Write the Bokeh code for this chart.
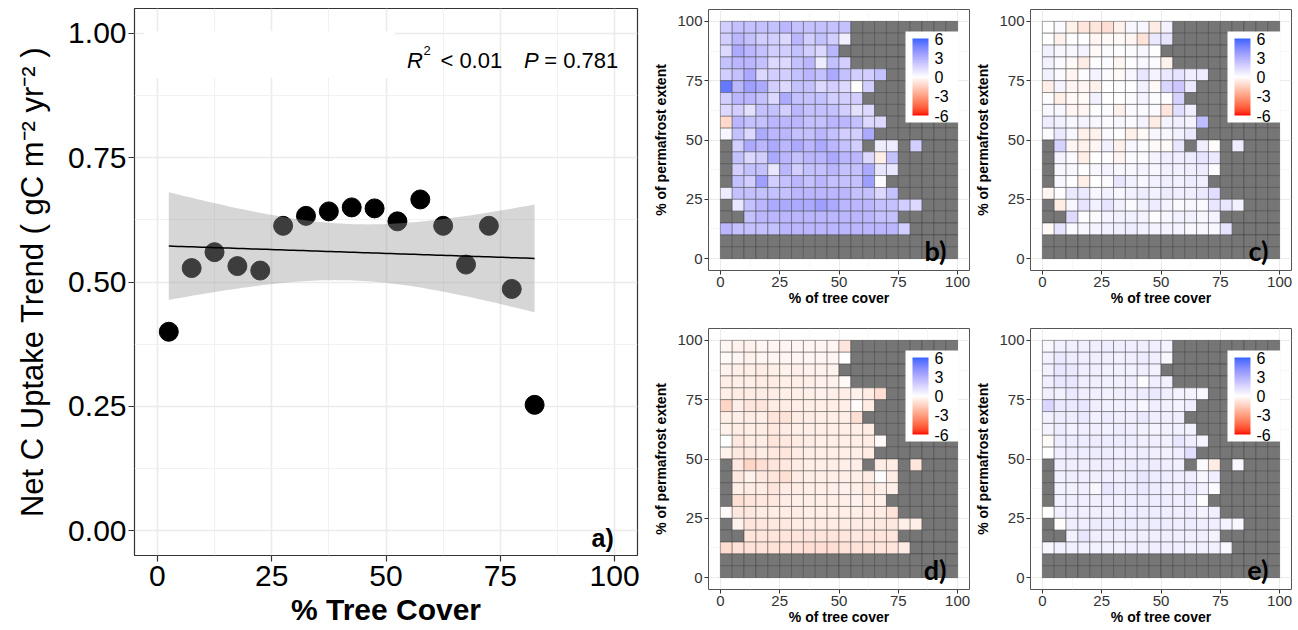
import numpy as np
from bokeh.plotting import figure
from bokeh.models import (ColumnDataSource, LinearColorMapper, ColorBar, FixedTicker,
                          Label, PrintfTickFormatter)
from bokeh.layouts import row, column
from bokeh.embed import file_html
from bokeh.resources import INLINE

# ---------------- data: panel a ----------------
tree_cover = [2.5, 7.5, 12.5, 17.5, 22.5, 27.5, 32.5, 37.5, 42.5, 47.5,
              52.5, 57.5, 62.5, 67.5, 72.5, 77.5, 82.5]
net_c_uptake_trend = [0.400, 0.528, 0.560, 0.532, 0.523, 0.613, 0.633, 0.642, 0.650,
                      0.648, 0.622, 0.666, 0.613, 0.535, 0.613, 0.486, 0.253]

# ---------------- data: heatmaps (rows listed top = 95-100 % permafrost, down to 0-5 %) --------
tree_cover_bins = [2.5 + 5 * i for i in range(20)]
permafrost_bins = [2.5 + 5 * i for i in range(20)]
N = None

trend_b = [
    [1.8, 2.3, 2.3, 2.3, 2.3, 2.7, 2.3, 2.3, 2.3, 2.3, 2.3],
    [1.8, 2.7, 2.3, 1.8, 1.8, 1.4, 2.7, 1.8, 2.3, 1.8, 0.6],
    [1.4, 3.2, 2.7, 2.3, 1.8, 1.8, 2.3, 1.8, 1.4, 2.7],
    [2.3, 2.7, 2.7, 2.3, 1.4, 1.4, 2.3, 2.7, 0.7, 2.3, 1.8],
    [1.8, 2.3, 3.2, 1.4, 1.8, 1.8, 2.3, 2.7, 2.3, 3.2, 2.3, 1.8, 1.8, 2.3],
    [5.2, 2.7, 3.6, 3.2, 1.8, 1.4, 2.3, 2.3, 1.4, 1.8, 1.4, 0.0, 1.8],
    [1.8, 2.7, 2.7, 2.3, 1.4, 3.2, 2.3, 2.3, 2.3, 1.8, 1.8, 1.8],
    [1.4, 1.8, 1.1, 2.3, 2.3, 1.8, 2.7, 2.3, 2.3, 2.3, 1.8, 1.1, 1.4],
    [-1.2, 2.7, 2.3, 2.3, 2.7, 2.7, 2.7, 2.3, 2.3, 2.7, 2.7, 2.3, 1.4, 1.4],
    [0.3, 2.3, 1.4, 3.2, 2.7, 2.7, 2.3, 2.3, 2.7, 2.3, 1.8, 1.8, 3.2],
    [N, 1.8, 3.2, 2.7, 3.2, 2.7, 3.2, 2.7, 3.2, 2.7, 2.3, 1.8, N, 0.7, 0.7, N, 1.8],
    [N, 2.3, 1.4, 1.8, 3.2, 2.7, 2.3, 2.7, 2.7, 3.2, 2.7, 2.7, 1.4, -0.5, 2.3],
    [N, 1.8, 2.3, 2.3, 0.9, 2.7, 1.8, 2.3, 2.3, 2.7, 2.3, 2.3, 3.2, 0.9, 0.9],
    [N, 2.3, 1.8, 3.6, 1.8, 2.3, 2.7, 2.3, 2.7, 2.3, 2.3, 2.3, 3.6, 0.2],
    [0.7, 2.3, 2.3, 2.3, 2.3, 2.3, 2.7, 2.7, 2.7, 2.7, 2.7, 2.3, 2.3, 1.4, 2.3],
    [N, 0.9, 2.3, 2.7, 3.2, 3.2, 3.2, 3.2, 3.6, 3.2, 2.7, 2.7, 2.7, 2.3, 2.3, 1.8, 1.4],
    [N, N, 2.3, 2.7, 2.7, 2.7, 2.7, 2.7, 2.7, 2.7, 2.7, 2.7, 2.7, 2.3, 2.3],
    [2.7, 2.3, 2.3, 2.3, 2.3, 2.7, 2.7, 2.7, 2.7, 2.7, 2.7, 2.7, 2.7, 2.7, 2.7, 1.8],
    [],
    [],
]

trend_c = [
    [0.0, 0.2, -0.4, -0.8, -0.8, -1.0, -0.4, 0.3, 0.3, -0.6, 0.5],
    [0.0, -0.4, 0.1, 0.0, -0.3, -0.2, -0.2, -0.3, -0.9, 0.8, 1.0],
    [0.5, 0.3, 0.3, 0.4, -0.2, 0.2, 0.1, 0.2, 0.3, 0.1],
    [0.5, 0.2, -0.2, -0.6, 0.1, 0.2, -0.3, 0.1, 0.3, 0.2, -0.4],
    [0.5, 0.2, -0.3, 0.1, 0.4, 0.2, -0.2, 0.3, 0.9, 0.4, 0.8, 1.0, 0.6, 0.7],
    [-0.5, 0.4, -0.3, -0.3, -0.4, 0.0, 0.1, 0.1, 0.5, -0.2, 1.5, 2.0, 0.8],
    [0.1, -0.5, -0.2, -0.2, 0.5, 0.0, 0.0, 0.2, 0.4, 0.2, 0.1, 1.6],
    [0.3, 0.3, -0.3, -0.3, 0.1, 0.2, -0.4, 0.2, 0.2, 0.2, -0.8, 1.2, 0.6],
    [0.7, 0.5, 0.3, 0.4, 0.3, 0.2, 0.3, 0.2, 0.4, -0.6, 0.4, 0.6, 0.4, 2.5],
    [0.2, 0.8, 0.3, -0.4, -0.4, 0.2, 0.0, -0.4, -0.2, 0.3, 0.3, 0.5, 0.8],
    [N, 1.6, -0.3, -0.4, -0.3, 0.5, -0.4, 0.3, 0.2, -0.2, -0.2, 0.9, N, 0.6, -0.1, N, 0.7],
    [N, 0.4, 0.2, -0.5, 0.0, 0.1, -0.3, 0.2, 0.2, 0.4, 0.6, 0.6, 0.7, 1.0, 0.8],
    [N, 0.3, 0.3, 0.1, 0.3, 0.4, 0.3, 0.3, 0.4, 0.3, 0.5, 0.5, 0.6, 0.7, 0.2],
    [N, 0.3, 0.1, -0.5, 0.0, 0.2, 0.9, 0.5, 0.3, 0.5, 0.6, 0.5, 0.7, 0.6],
    [-0.3, 0.1, 0.8, 0.8, 0.3, 0.5, 0.3, 0.5, 0.7, 0.5, 0.7, 0.6, 0.6, 0.8, 1.2],
    [N, -0.6, 0.3, 1.0, 0.5, 1.0, 0.5, 0.2, 0.5, 0.7, 0.4, 0.2, 0.3, 0.2, 0.9, 0.9, 0.5],
    [N, N, 1.3, 0.1, 0.2, 0.4, 0.5, 0.5, 0.4, 0.1, 0.3, 0.5, 0.5, 0.3, 0.4],
    [-0.2, 1.0, 0.2, 0.3, 0.4, 0.5, 0.6, 0.7, 0.5, 0.4, 0.4, 0.4, 0.3, 0.3, 0.3, 1.0],
    [],
    [],
]

trend_d = [
    [-0.3, -0.4, -0.4, -0.3, -0.3, -0.3, -0.3, -0.3, -0.3, -0.3, -0.8],
    [-0.2, -0.3, -0.4, -0.3, -0.3, -0.3, -0.3, -0.3, -0.3, -0.3, 0.0],
    [-0.4, -0.5, -0.5, -0.6, -0.5, -0.4, -0.5, -0.4, -0.4, -0.4],
    [-0.5, -0.5, -0.5, -0.6, -0.6, -0.5, -0.5, -0.5, -0.4, -0.4, -0.2],
    [-0.5, -0.6, -0.6, -0.6, -0.6, -0.5, -0.5, -0.5, -0.4, -0.5, -0.5, -0.4, -0.6, -1.0],
    [-1.3, -0.5, -0.8, -0.8, -0.6, -0.6, -0.5, -0.5, -0.5, -0.5, -0.5, -0.1, -0.6],
    [-0.5, -0.5, -0.6, -0.5, -0.8, -0.9, -0.6, -0.6, -0.5, -0.5, -0.5, -1.0],
    [-0.4, -0.6, -0.5, -0.6, -0.7, -0.6, -0.5, -0.5, -0.5, -0.5, -0.5, -0.5, -0.6],
    [0.0, -0.7, -0.6, -0.6, -0.8, -0.7, -0.6, -0.6, -0.5, -0.5, -0.5, -0.5, -0.6, -0.2],
    [-0.4, -0.7, -0.7, -0.6, -0.7, -0.8, -0.6, -0.5, -0.5, -0.5, -0.5, -0.5, -0.6],
    [N, -0.7, -1.3, -1.0, -0.8, -0.7, -0.6, -0.5, -0.5, -0.5, -0.5, -0.5, N, -0.6, -0.6, N, -0.8],
    [N, -0.7, -0.4, -0.7, -0.8, -1.0, -0.6, -0.5, -0.5, -0.5, -0.5, -0.5, -0.6, 0.1, -0.6],
    [N, -0.5, -0.6, -0.6, -0.8, -0.6, -0.6, -0.5, -0.5, -0.5, -0.4, -0.5, -0.7, -0.5, -0.5],
    [N, -1.0, -0.8, -0.7, -0.7, -0.6, -0.5, -0.5, -0.5, -0.5, -0.5, -0.4, -0.6, -0.5],
    [-0.2, -0.7, -0.7, -0.6, -0.6, -0.6, -0.6, -0.5, -0.5, -0.5, -0.5, -0.5, -0.6, -0.6, -0.9],
    [N, -0.4, -0.8, -0.7, -0.7, -0.7, -0.6, -0.6, -0.6, -0.6, -0.6, -0.6, -0.6, -0.7, -0.7, -0.5, -0.5],
    [N, N, -0.8, -0.8, -0.8, -0.8, -0.8, -0.8, -0.8, -0.8, -0.8, -0.7, -0.8, -0.8, -0.8],
    [-1.1, -0.9, -0.9, -0.9, -0.9, -0.9, -0.9, -1.0, -1.0, -1.0, -0.9, -0.9, -0.9, -0.8, -0.8, -0.6],
    [],
    [],
]

trend_e = [
    [0.3, 0.5, 0.6, 0.6, 0.6, 0.7, 0.6, 0.6, 0.6, 0.6, 0.4],
    [0.5, 0.8, 0.7, 0.6, 0.6, 0.6, 0.5, 0.6, 0.7, 0.6, 0.3],
    [0.5, 0.9, 0.8, 0.6, 0.6, 0.5, 0.5, 0.5, 0.6, 0.5],
    [0.6, 0.9, 0.9, 0.6, 0.6, 0.5, 0.5, 0.6, 0.1, 0.6, 0.5],
    [0.6, 0.5, 0.8, 0.6, 0.6, 0.5, 0.6, 0.6, 0.7, 0.8, 0.6, 0.4, 0.4, 0.3],
    [1.5, 0.8, 0.8, 0.9, 0.6, 0.5, 0.5, 0.5, 0.3, 0.6, 0.5, 0.4, 0.6],
    [0.5, 0.7, 0.7, 0.8, 0.5, 0.7, 0.6, 0.6, 0.8, 0.6, 0.6, 0.6],
    [0.4, 0.7, 0.5, 0.6, 0.6, 0.5, 0.7, 0.6, 0.5, 0.4, 0.5, 0.5, 0.5],
    [-0.2, 0.7, 0.7, 0.7, 0.7, 0.7, 0.7, 0.7, 0.6, 0.6, 0.5, 0.9, 0.6, 0.4],
    [0.0, 0.6, 0.7, 0.7, 0.7, 0.7, 0.6, 0.6, 0.7, 0.6, 0.5, 0.6, 1.2],
    [N, 0.6, 0.6, 0.6, 0.6, 0.7, 0.6, 0.7, 0.7, 0.7, 0.6, 0.5, N, 0.2, -0.6, N, 0.3],
    [N, 0.5, 0.6, 0.6, 0.6, 0.6, 0.6, 0.7, 0.9, 0.7, 0.7, 0.6, 0.6, 0.3, 0.6],
    [N, 0.5, 0.5, 0.6, 0.3, 0.9, 0.7, 0.7, 0.8, 0.7, 0.6, 0.6, 0.8, 0.5, 0.2],
    [N, 0.5, 0.6, 0.6, 0.6, 0.6, 0.6, 0.7, 0.7, 0.7, 0.7, 0.6, 0.7, 0.1],
    [0.0, 0.5, 0.6, 0.6, 0.6, 0.6, 0.6, 0.7, 0.7, 0.7, 0.6, 0.6, 0.7, 0.4, 0.6],
    [N, -0.1, 0.6, 0.6, 0.7, 0.7, 0.7, 0.7, 0.7, 0.7, 0.7, 0.6, 0.7, 0.6, 0.6, 0.4, 0.3],
    [N, N, 0.5, 0.9, 0.6, 0.6, 0.6, 0.6, 0.6, 0.6, 0.6, 0.6, 0.6, 0.6, 0.4],
    [0.3, 0.5, 0.5, 0.5, 0.5, 0.5, 0.5, 0.6, 0.6, 0.6, 0.6, 0.6, 0.5, 0.5, 0.5, 0.3],
    [],
    [],
]

legend_ticks = [-6, -3, 0, 3, 6]
axis_ticks = [0, 25, 50, 75, 100]

FONT = "Liberation Sans"


# ---------------- colour scale (red - white - blue, interpolated in CIE Lab) ----------
def _hex_rgb(h):
    h = h.lstrip("#")
    return [int(h[i:i + 2], 16) / 255 for i in (0, 2, 4)]


def _to_lin(c):
    return c / 12.92 if c <= 0.04045 else ((c + 0.055) / 1.055) ** 2.4


def _from_lin(c):
    c = min(max(c, 0.0), 1.0)
    return 12.92 * c if c <= 0.0031308 else 1.055 * c ** (1 / 2.4) - 0.055


WHITE = (0.95047, 1.0, 1.08883)


def hex_to_lab(h):
    r, g, b = [_to_lin(c) for c in _hex_rgb(h)]
    X = 0.4124 * r + 0.3576 * g + 0.1805 * b
    Y = 0.2126 * r + 0.7152 * g + 0.0722 * b
    Z = 0.0193 * r + 0.1192 * g + 0.9505 * b
    def f(t):
        return t ** (1 / 3) if t > 0.008856 else 7.787 * t + 16 / 116
    fx, fy, fz = f(X / WHITE[0]), f(Y / WHITE[1]), f(Z / WHITE[2])
    return (116 * fy - 16, 500 * (fx - fy), 200 * (fy - fz))


def lab_to_hex(L, a, b):
    fy = (L + 16) / 116
    fx = fy + a / 500
    fz = fy - b / 200
    def finv(t):
        return t ** 3 if t ** 3 > 0.008856 else (t - 16 / 116) / 7.787
    X, Y, Z = finv(fx) * WHITE[0], finv(fy) * WHITE[1], finv(fz) * WHITE[2]
    r = 3.2406 * X - 1.5372 * Y - 0.4986 * Z
    g = -0.9689 * X + 1.8758 * Y + 0.0415 * Z
    bb = 0.0557 * X - 0.2040 * Y + 1.0570 * Z
    return "#%02x%02x%02x" % tuple(int(round(_from_lin(c) * 255)) for c in (r, g, bb))


lab_low, lab_mid, lab_high = hex_to_lab("#FF0000"), hex_to_lab("#FFFFFF"), hex_to_lab("#3366FF")
palette = []
NPAL = 255
for i in range(NPAL):
    t = i / (NPAL - 1) * 2 - 1  # -1 .. 1
    end = lab_low if t < 0 else lab_high
    w = abs(t)
    palette.append(lab_to_hex(*[m + (e - m) * w for m, e in zip(lab_mid, end)]))

mapper = LinearColorMapper(palette=palette, low=-6, high=6, nan_color="#767676")


# ---------------- panel a ----------------
x = np.array(tree_cover)
y = np.array(net_c_uptake_trend)
n = len(x)
slope, intercept = np.polyfit(x, y, 1)
resid = y - (slope * x + intercept)
s = np.sqrt(np.sum(resid ** 2) / (n - 2))
sxx = np.sum((x - x.mean()) ** 2)
t975 = 2.131449546  # t quantile, 15 df
xs = np.linspace(x.min(), x.max(), 80)
fit = slope * xs + intercept
se = s * np.sqrt(1 / n + (xs - x.mean()) ** 2 / sxx)

pa = figure(frame_width=503, frame_height=547, x_range=(-5, 105), y_range=(-0.05, 1.05),
            output_backend="svg", toolbar_location=None,
            min_border_left=134, min_border_right=13, min_border_top=8, min_border_bottom=10)
pa.background_fill_color = "white"
pa.border_fill_color = "white"
pa.outline_line_color = "#333333"
pa.outline_line_width = 1.2

pa.xaxis.ticker = FixedTicker(ticks=axis_ticks, minor_ticks=[12.5, 37.5, 62.5, 87.5])
pa.yaxis.ticker = FixedTicker(ticks=[0, 0.25, 0.5, 0.75, 1.0], minor_ticks=[0.125, 0.375, 0.625, 0.875])
pa.yaxis.formatter = PrintfTickFormatter(format="%.2f")
for g in (pa.xgrid, pa.ygrid):
    g.grid_line_color = "#EBEBEB"
    g.grid_line_width = 1.6
    g.minor_grid_line_color = "#EFEFEF"
    g.minor_grid_line_width = 0.9
for ax in (pa.xaxis, pa.yaxis):
    ax.axis_line_color = None
    ax.major_tick_line_color = "#333333"
    ax.major_tick_line_width = 1.2
    ax.major_tick_out = 6
    ax.major_tick_in = 0
    ax.minor_tick_line_color = None
    ax.major_label_text_font = FONT
    ax.major_label_text_font_size = "30px"
    ax.major_label_text_color = "black"
    ax.axis_label_text_font = FONT
    ax.axis_label_text_color = "black"
pa.yaxis.major_label_standoff = 2
pa.xaxis.major_label_standoff = 4
pa.xaxis.axis_label = "% Tree Cover"
pa.xaxis.axis_label_text_font_style = "bold"
pa.xaxis.axis_label_text_font_size = "30px"
pa.xaxis.axis_label_standoff = 4
pa.yaxis.axis_label = "Net C Uptake Trend ( gC m\u207b\u00b2 yr\u207b\u00b2 )"
pa.yaxis.axis_label_text_font_style = "normal"
pa.yaxis.axis_label_text_font_size = "31px"
pa.yaxis.axis_label_standoff = 15

# white box at the top left of panel a
pa.quad(left=[-3], right=[52], bottom=[0.91], top=[1.004], fill_color="white", line_color=None)

pa.scatter(tree_cover, net_c_uptake_trend, size=19, color="black")
pa.varea(x=xs, y1=fit - t975 * se, y2=fit + t975 * se, fill_color="#999999", fill_alpha=0.4)
pa.line(xs, fit, line_color="black", line_width=1.5)

lbl_kw = dict(text_font=FONT, text_color="black", text_baseline="alphabetic")
pa.add_layout(Label(x=54.6, y=0.9457, text="R", text_font_size="22px", text_font_style="italic", **lbl_kw))
pa.add_layout(Label(x=58.2, y=0.9665, text="2", text_font_size="13px", **lbl_kw))
pa.add_layout(Label(x=61.9, y=0.9457, text="< 0.01", text_font_size="22px", **lbl_kw))
pa.add_layout(Label(x=80.2, y=0.9457, text="P", text_font_size="22px", text_font_style="italic", **lbl_kw))
pa.add_layout(Label(x=84.6, y=0.9457, text="= 0.781", text_font_size="22px", **lbl_kw))
pa.add_layout(Label(x=99.8, y=-0.014, text="a)", text_font=FONT,
                    text_font_size="25px", text_font_style="bold", text_align="right",
                    text_baseline="alphabetic", text_color="black"))


# ---------------- heatmap panels ----------------
def heat_panel(rows, letter, top_border, bottom_border):
    xs_, ys_, vs_ = [], [], []
    for r_i, r in enumerate(rows):
        yc = permafrost_bins[len(rows) - 1 - r_i]
        full = list(r) + [None] * (20 - len(r))
        for c_i, v in enumerate(full):
            xs_.append(tree_cover_bins[c_i])
            ys_.append(yc)
            vs_.append(np.nan if v is None else v)
    src = ColumnDataSource(dict(x=np.array(xs_), y=np.array(ys_), v=np.array(vs_, dtype=float)))

    p = figure(frame_width=261, frame_height=261, x_range=(-5, 105), y_range=(-5, 105),
               output_backend="svg", toolbar_location=None,
               min_border_left=56, min_border_right=3,
               min_border_top=top_border, min_border_bottom=bottom_border)
    p.background_fill_color = "white"
    p.border_fill_color = "white"
    p.outline_line_color = "#555555"
    p.outline_line_width = 1

    p.xaxis.ticker = FixedTicker(ticks=axis_ticks, minor_ticks=[12.5, 37.5, 62.5, 87.5])
    p.yaxis.ticker = FixedTicker(ticks=axis_ticks, minor_ticks=[12.5, 37.5, 62.5, 87.5])
    for g in (p.xgrid, p.ygrid):
        g.grid_line_color = "#EBEBEB"
        g.grid_line_width = 1.0
        g.minor_grid_line_color = "#F2F2F2"
        g.minor_grid_line_width = 0.6
    for ax in (p.xaxis, p.yaxis):
        ax.axis_line_color = None
        ax.major_tick_line_color = "#333333"
        ax.major_tick_out = 4
        ax.major_tick_in = 0
        ax.minor_tick_line_color = None
        ax.major_label_text_font = FONT
        ax.major_label_text_font_size = "15px"
        ax.major_label_text_color = "#333333"
        ax.major_label_standoff = 2
        ax.axis_label_text_font = FONT
        ax.axis_label_text_font_style = "bold"
        ax.axis_label_text_font_size = "14px"
        ax.axis_label_text_color = "black"
    p.xaxis.axis_label = "% of tree cover"
    p.yaxis.axis_label = "% of permafrost extent"
    p.xaxis.axis_label_standoff = 0
    p.yaxis.axis_label_standoff = 5

    p.rect(x="x", y="y", width=5, height=5, source=src,
           fill_color={"field": "v", "transform": mapper},
           line_color="#3C3C3C", line_width=0.6, line_alpha=0.75)

    cb = ColorBar(color_mapper=mapper, ticker=FixedTicker(ticks=legend_ticks),
                  formatter=PrintfTickFormatter(format="%d"),
                  location=(197, 148), width=16, height=77, padding=7, margin=0,
                  label_standoff=6, major_label_text_font=FONT,
                  major_label_text_font_size="16px", major_label_text_color="black",
                  major_tick_line_color=None, background_fill_color="white",
                  background_fill_alpha=1.0, border_line_color=None, bar_line_color=None)
    p.add_layout(cb, "center")

    p.add_layout(Label(x=95.3, y=3.3, text=letter, text_font="Lato", text_font_size="27px",
                       text_font_style="bold", text_align="right", text_baseline="alphabetic",
                       text_color="black"))
    return p


pb = heat_panel(trend_b, "b)", 9, 10)
pc = heat_panel(trend_c, "c)", 9, 10)
pd_ = heat_panel(trend_d, "d)", 20, 10)
pe = heat_panel(trend_e, "e)", 20, 10)

layout = row(pa, column(row(pb, pc), row(pd_, pe)))
open("out.html", "w").write(file_html(layout, INLINE))
